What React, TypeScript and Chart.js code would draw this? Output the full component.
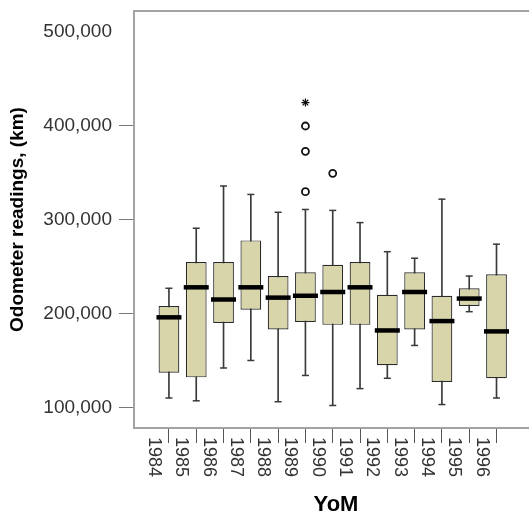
import React, { useEffect, useRef } from 'react';
import { Chart, registerables } from 'chart.js';

Chart.register(...registerables);

// ---- data ----
const years = [1984, 1985, 1986, 1987, 1988, 1989, 1990, 1991, 1992, 1993, 1994, 1995, 1996];
const whiskerHigh = [227000, 291000, 336000, 327000, 308000, 311000, 310000, 297000, 266000, 259000, 322000, 240000, 274000];
const q3 = [208000, 255000, 255000, 278000, 240000, 244000, 252000, 255000, 220000, 244000, 219000, 227000, 242000];
const median = [196000, 228000, 215000, 228000, 217000, 219000, 223000, 228000, 182000, 223000, 192000, 216000, 181000];
const q1 = [137000, 132000, 190000, 204000, 183000, 191000, 188000, 188000, 145000, 183000, 127000, 208000, 131000];
const whiskerLow = [110000, 107000, 142000, 150000, 106000, 134000, 102000, 120000, 131000, 166000, 103000, 202000, 110000];

const outlierYears = [1989, 1989, 1989, 1990];
const outlierValues = [330000, 373000, 400000, 349500];
const extremeYears = [1989];
const extremeValues = [425000];

const yTickValues = [100000, 200000, 300000, 400000, 500000];
const xTitle = 'YoM';
const yTitle = 'Odometer readings, (km)';

const FONT = '"Liberation Sans", Arial, sans-serif';

const zeroPad = (s: any) => {
  s.paddingTop = 0;
  s.paddingBottom = 0;
  s.paddingLeft = 0;
  s.paddingRight = 0;
};

export default function App() {
  const ref = useRef<HTMLCanvasElement>(null);

  useEffect(() => {
    const canvas = ref.current;
    if (!canvas) return;

    const framePlugin = {
      id: 'frame',
      beforeDatasetsDraw(chart: any) {
        const { ctx, chartArea: a } = chart;
        ctx.save();
        ctx.strokeStyle = '#a3a3a3';
        ctx.lineWidth = 2;
        ctx.strokeRect(a.left, a.top, a.right - a.left, a.bottom - a.top);
        ctx.restore();
      },
    };

    const xLabelPlugin = {
      id: 'xlabels',
      afterDraw(chart: any) {
        const xs = chart.scales.x;
        const ctx = chart.ctx;
        ctx.save();
        ctx.font = `18px ${FONT}`;
        ctx.fillStyle = '#333';
        ctx.textAlign = 'left';
        ctx.textBaseline = 'middle';
        years.forEach((yr) => {
          const px = xs.getPixelForValue(yr) - 15;
          ctx.save();
          ctx.translate(px, xs.top + 9);
          ctx.rotate(Math.PI / 2);
          ctx.fillText(String(yr), 0, 0);
          ctx.restore();
        });
        ctx.restore();
      },
    };

    const chart = new Chart(canvas, {
      type: 'bar',
      data: {
        datasets: [
          {
            type: 'bar',
            label: 'whisker',
            data: years.map((yr, i) => ({ x: yr, y: [whiskerLow[i], whiskerHigh[i]] })),
            backgroundColor: '#3a3a3a',
            barThickness: 1,
            grouped: false,
            order: 3,
          } as any,
          {
            type: 'bar',
            label: 'box',
            data: years.map((yr, i) => ({ x: yr, y: [q1[i], q3[i]] })),
            backgroundColor: '#d9d5aa',
            borderColor: '#2a2a2a',
            borderWidth: 1.2,
            borderSkipped: false,
            barPercentage: 0.76,
            categoryPercentage: 1,
            grouped: false,
            order: 2,
          } as any,
          {
            type: 'scatter',
            label: 'median',
            data: years.map((yr, i) => ({ x: yr, y: median[i] })),
            pointStyle: 'line',
            pointRadius: 12.5,
            pointBorderWidth: 4.5,
            pointBorderColor: '#000',
            borderColor: '#000',
            borderWidth: 4.5,
            order: 1,
          } as any,
          {
            type: 'scatter',
            label: 'caps',
            data: [
              ...years.map((yr, i) => ({ x: yr, y: whiskerLow[i] })),
              ...years.map((yr, i) => ({ x: yr, y: whiskerHigh[i] })),
            ],
            pointStyle: 'line',
            pointRadius: 3.5,
            pointBorderWidth: 1.5,
            pointBorderColor: '#3a3a3a',
            borderColor: '#3a3a3a',
            borderWidth: 1.5,
            order: 1,
          } as any,
          {
            type: 'scatter',
            label: 'outliers',
            data: outlierYears.map((yr, i) => ({ x: yr, y: outlierValues[i] })),
            pointStyle: 'circle',
            pointRadius: 3.5,
            pointBackgroundColor: '#fff',
            pointBorderColor: '#111',
            pointBorderWidth: 1.8,
            backgroundColor: '#fff',
            borderColor: '#111',
            borderWidth: 1.8,
            order: 0,
          } as any,
          {
            type: 'scatter',
            label: 'extremes',
            data: extremeYears.map((yr, i) => ({ x: yr, y: extremeValues[i] })),
            pointStyle: 'star',
            pointRadius: 4,
            pointBorderColor: '#111',
            pointBorderWidth: 1.2,
            borderColor: '#111',
            borderWidth: 1.2,
            order: 0,
          } as any,
        ],
      },
      options: {
        responsive: false,
        animation: false,
        layout: { autoPadding: false, padding: { top: 11, right: 7, left: 0, bottom: 0 } },
        plugins: { legend: { display: false }, tooltip: { enabled: false } },
        scales: {
          x: {
            type: 'linear',
            offset: false,
            min: years[0] - 1.28,
            max: years[years.length - 1] + 1.52,
            afterBuildTicks: (s: any) => {
              s.ticks = years.map((v) => ({ value: v }));
            },
            afterFit: (s: any) => {
              s.height = 90;
              zeroPad(s);
            },
            ticks: { display: false },
            grid: {
              offset: false,
              drawOnChartArea: false,
              drawTicks: true,
              tickLength: 15,
              tickColor: '#555',
              tickWidth: 1,
            },
            border: { display: false },
            title: {
              display: true,
              text: xTitle,
              font: { family: FONT, size: 22, weight: 'bold' },
              color: '#000',
              padding: { top: 0, bottom: 0 },
            },
          },
          y: {
            type: 'linear',
            min: 78000,
            max: 522600,
            afterBuildTicks: (s: any) => {
              s.ticks = yTickValues.map((v) => ({ value: v }));
            },
            afterFit: (s: any) => {
              s.width = 134;
              zeroPad(s);
            },
            ticks: {
              callback: (v: any) => Number(v).toLocaleString('en-US'),
              font: { family: FONT, size: 19 },
              color: '#333',
              padding: 7,
            },
            grid: {
              drawOnChartArea: false,
              drawTicks: true,
              tickLength: 15,
              tickWidth: 1,
              tickColor: (c: any) => (c.tick && c.tick.value === 500000 ? 'rgba(0,0,0,0)' : '#777'),
            },
            border: { display: false },
            title: {
              display: true,
              text: yTitle,
              font: { family: FONT, size: 19, weight: 'bold' },
              color: '#000',
              padding: { top: 6, bottom: 0 },
            },
          },
        },
      } as any,
      plugins: [framePlugin, xLabelPlugin],
    });

    return () => chart.destroy();
  }, []);

  return (
    <div
      style={{
        position: 'fixed',
        left: 0,
        top: 0,
        width: 529,
        height: 518,
        overflow: 'hidden',
        background: '#fff',
      }}
    >
      <canvas ref={ref} width={545} height={518} style={{ display: 'block', width: 545, height: 518 }} />
    </div>
  );
}
